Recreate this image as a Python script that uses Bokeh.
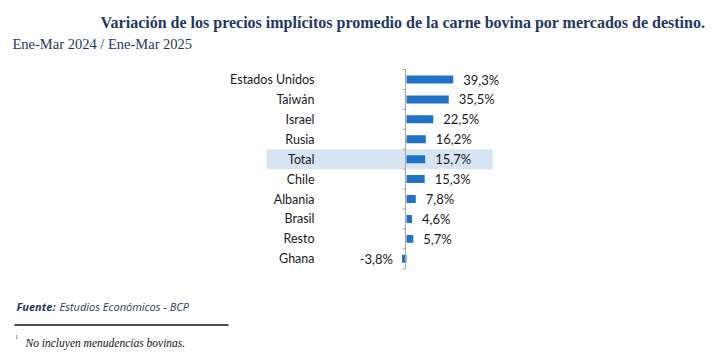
from bokeh.plotting import figure
from bokeh.models import Range1d, Label, ColumnDataSource
from bokeh.core.properties import value
from bokeh.embed import file_html
from bokeh.resources import INLINE

categories = ["Estados Unidos", "Taiwán", "Israel", "Rusia", "Total", "Chile",
              "Albania", "Brasil", "Resto", "Ghana"]
values = [39.3, 35.5, 22.5, 16.2, 15.7, 15.3, 7.8, 4.6, 5.7, -3.8]
value_labels = ["39,3%", "35,5%", "22,5%", "16,2%", "15,7%", "15,3%",
                "7,8%", "4,6%", "5,7%", "-3,8%"]
highlight = "Total"

W, H = 720, 356
# pixel geometry of the plotting area
X0, XS = 406.0, 1.19        # zero line position (px) and px per percentage point
Y0, YS = 79.0, 19.92        # first row centre (px) and row spacing (px)

def dx(px):
    return (px - X0) / XS

def dy(py):
    return (py - Y0) / YS

p = figure(width=W, height=H, output_backend="svg", toolbar_location=None,
           min_border=0, x_axis_type=None, y_axis_type=None,
           x_range=Range1d(dx(0), dx(W)), y_range=Range1d(dy(H), dy(0)))
p.grid.visible = False
p.outline_line_color = None
p.background_fill_color = "white"
p.border_fill_color = "white"

rows = list(range(len(categories)))
src = ColumnDataSource(dict(
    y=rows, v=values, cat=categories, lab=value_labels,
    xoff=[10 if v >= 0 else -9 for v in values],
    align=["left" if v >= 0 else "right" for v in values],
))

# highlight band for Total
hi = categories.index(highlight)
p.hbar(y=[hi], left=[dx(266)], right=[dx(492)], height=1.0,
       fill_color="#D7E4F1", line_color=None)

# bars
p.hbar(y="y", left=0, right="v", height=0.4, source=src,
       fill_color="#1F73C6", line_color=None)

# axis line and ticks
n = len(categories)
p.segment(x0=[dx(405)], y0=[-0.5], x1=[dx(405)], y1=[n - 0.5],
          line_color="#A6A6A6", line_width=1)
bounds = [i - 0.5 for i in range(n + 1)]
p.segment(x0=[dx(402)] * len(bounds), y0=bounds, x1=[dx(405)] * len(bounds), y1=bounds,
          line_color="#A6A6A6", line_width=1)

# category labels
p.text(x=dx(314), y="y", text="cat", source=src, text_align="right",
       text_baseline="middle", text_font=value("Lato"), text_font_size="12.5px",
       text_color="#1a1a1a")

# value labels
p.text(x="v", y="y", text="lab", x_offset="xoff", source=src, text_align="align",
       text_baseline="middle", text_font=value("Lato"), text_font_size="13px",
       text_color="#1a1a1a")

navy = "#1F3864"
p.add_layout(Label(x=100, y=H - 22, x_units="screen", y_units="screen",
                   text="Variación de los precios implícitos promedio de la carne bovina por mercados de destino.",
                   text_font="Liberation Serif", text_font_style="bold", text_font_size="16px",
                   text_color=navy, text_baseline="middle"))
p.add_layout(Label(x=12, y=H - 43, x_units="screen", y_units="screen",
                   text="Ene-Mar 2024 / Ene-Mar 2025",
                   text_font="Liberation Serif", text_font_size="14.5px",
                   text_color=navy, text_baseline="middle"))

p.add_layout(Label(x=16, y=H - 306, x_units="screen", y_units="screen",
                   text="Fuente:", text_font="Open Sans", text_font_style="bold italic",
                   text_font_size="11px", text_color=navy, text_baseline="middle"))
p.add_layout(Label(x=59, y=H - 306, x_units="screen", y_units="screen",
                   text="Estudios Económicos - BCP", text_font="Open Sans", text_font_style="italic",
                   text_font_size="11px", text_color=navy, text_baseline="middle"))

p.segment(x0=[dx(14)], y0=[dy(324.5)], x1=[dx(228)], y1=[dy(324.5)],
          line_color="#111111", line_width=1.5)

p.add_layout(Label(x=15, y=H - 338, x_units="screen", y_units="screen",
                   text="¹", text_font="Liberation Serif", text_font_size="8px",
                   text_color="#555555", text_baseline="middle"))
p.add_layout(Label(x=25, y=H - 342, x_units="screen", y_units="screen",
                   text="No incluyen menudencias bovinas.", text_font="Liberation Serif",
                   text_font_style="italic", text_font_size="11.5px",
                   text_color="#111111", text_baseline="middle"))

open("out.html", "w").write(file_html(p, INLINE))
